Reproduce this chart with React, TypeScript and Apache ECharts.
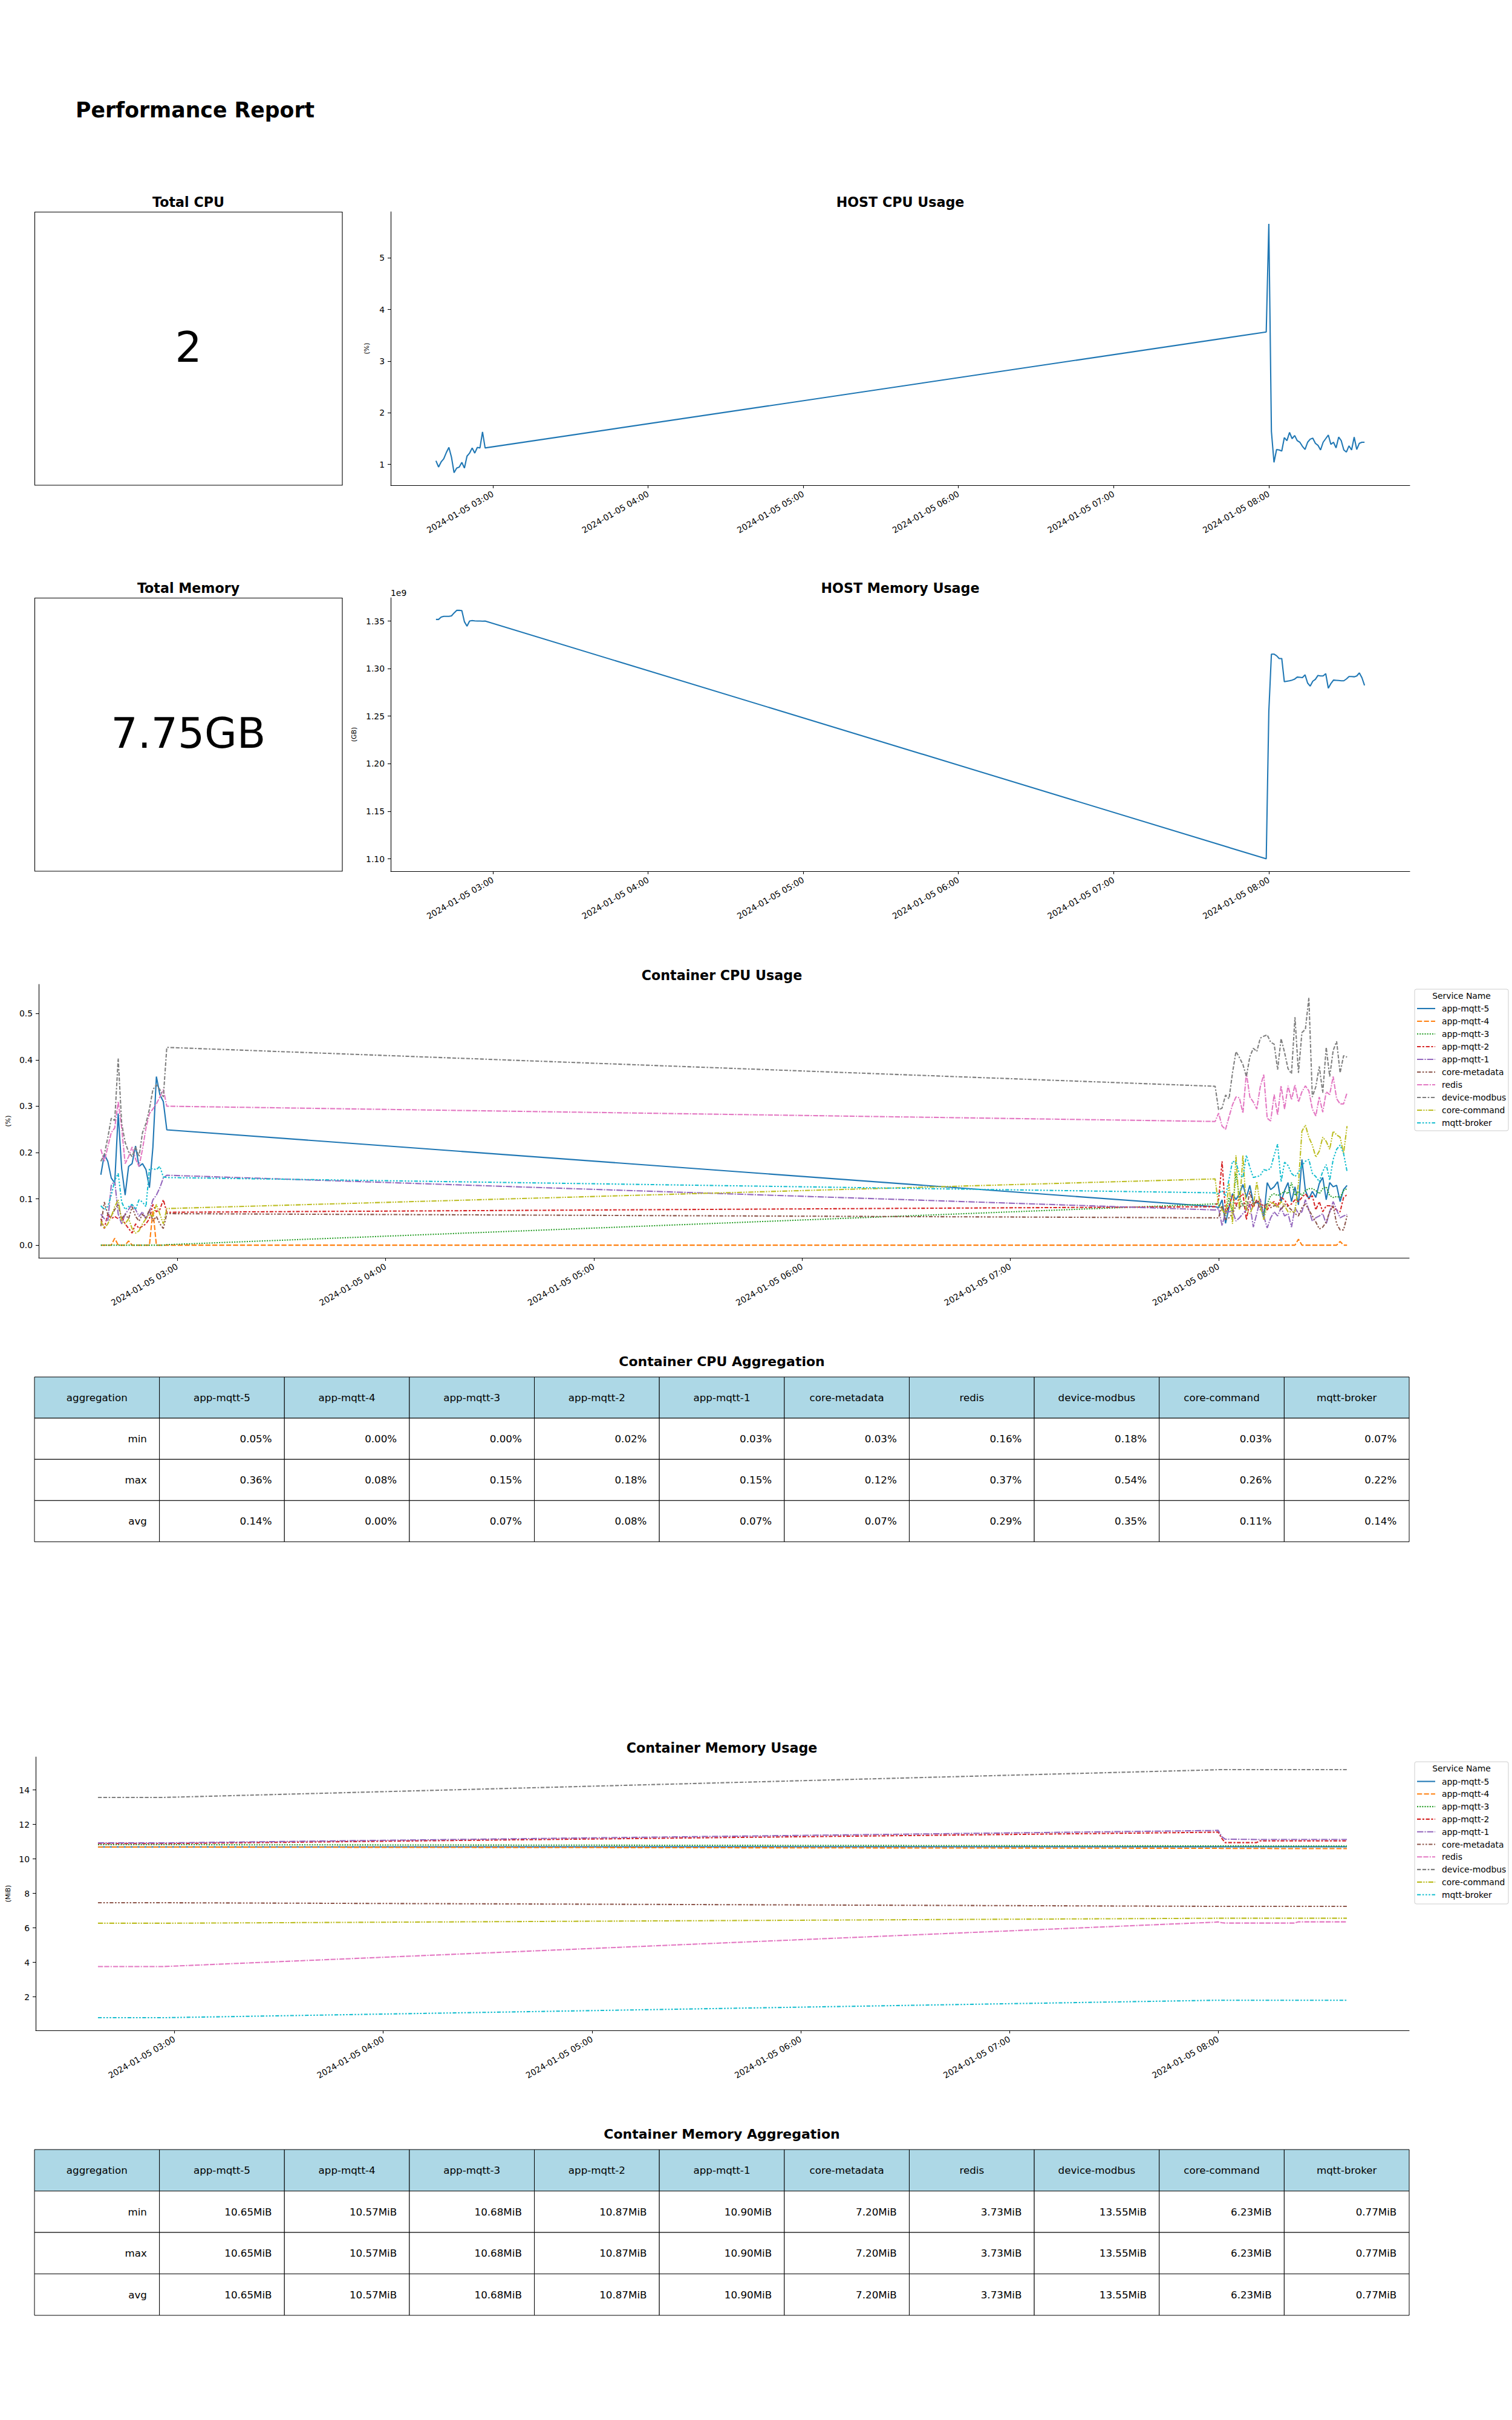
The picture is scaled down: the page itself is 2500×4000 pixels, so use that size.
import React, { useEffect, useRef } from "react";
import * as echarts from "echarts";

const FONT = "DejaVu Sans";

// ---------------- data ----------------
const services = ["app-mqtt-5", "app-mqtt-4", "app-mqtt-3", "app-mqtt-2", "app-mqtt-1", "core-metadata", "redis", "device-modbus", "core-command", "mqtt-broker"];

const totalCpuText = "2";
const totalMemoryText = "7.75GB";

const timesEarly = ["02:38", "02:39", "02:40", "02:41", "02:42", "02:43", "02:44", "02:45", "02:46", "02:47", "02:48", "02:49", "02:50", "02:51", "02:52", "02:53", "02:54", "02:55", "02:56", "02:57"];
const timesLate = ["07:59", "08:00", "08:01", "08:02", "08:03", "08:04", "08:05", "08:06", "08:07", "08:08", "08:09", "08:10", "08:11", "08:12", "08:13", "08:14", "08:15", "08:16", "08:17", "08:18", "08:19", "08:20", "08:21", "08:22", "08:23", "08:24", "08:25", "08:26", "08:27", "08:28", "08:29", "08:30", "08:31", "08:32", "08:33", "08:34", "08:35", "08:36", "08:37"];
const sampleTimes = [...timesEarly, ...timesLate];

const hourTicks = ["03:00", "04:00", "05:00", "06:00", "07:00", "08:00"];

// HOST CPU (%)
const hostCpuEarly = [1.07, 0.95, 1.05, 1.11, 1.23, 1.33, 1.14, 0.84, 0.93, 0.95, 1.04, 0.93, 1.16, 1.22, 1.32, 1.22, 1.33, 1.32, 1.63, 1.32];
const hostCpuLate = [3.565, 5.66, 1.64, 1.04, 1.29, 1.28, 1.26, 1.52, 1.46, 1.62, 1.50, 1.56, 1.46, 1.43, 1.35, 1.29, 1.43, 1.49, 1.51, 1.41, 1.37, 1.28, 1.43, 1.50, 1.57, 1.39, 1.43, 1.32, 1.53, 1.46, 1.28, 1.24, 1.36, 1.28, 1.53, 1.29, 1.41, 1.43, 1.43];
const hostCpuTicks = [1, 2, 3, 4, 5];

// HOST Memory (x 1e9)
const hostMemEarly = [1.3517, 1.3517, 1.3541, 1.3549, 1.3549, 1.3549, 1.3554, 1.3585, 1.3612, 1.3612, 1.3610, 1.3493, 1.3446, 1.3500, 1.3505, 1.3502, 1.3500, 1.3500, 1.3498, 1.3500];
const hostMemLate = [1.100, 1.255, 1.3152, 1.3152, 1.3135, 1.3106, 1.3106, 1.2862, 1.2867, 1.2872, 1.2879, 1.2890, 1.2911, 1.2909, 1.2905, 1.2935, 1.2848, 1.2816, 1.2867, 1.2887, 1.2928, 1.2923, 1.2923, 1.2947, 1.2794, 1.2843, 1.2879, 1.2877, 1.2875, 1.2872, 1.2872, 1.2891, 1.2916, 1.2916, 1.2914, 1.2923, 1.2955, 1.2904, 1.2823];
const hostMemTicks = [1.10, 1.15, 1.20, 1.25, 1.30, 1.35];
const hostMemOffsetText = "1e9";

// Container CPU (%) : 20 early + 39 late samples
const cpuAppMqtt5 = [0.152, 0.196, 0.181, 0.145, 0.134, 0.284, 0.165, 0.108, 0.170, 0.176, 0.214, 0.170, 0.176, 0.163, 0.124, 0.212, 0.364, 0.325, 0.310, 0.249,
  0.083, 0.081, 0.098, 0.047, 0.081, 0.111, 0.098, 0.111, 0.131, 0.103, 0.129, 0.092, 0.092, 0.089, 0.059, 0.135, 0.120, 0.126, 0.137, 0.094, 0.118, 0.135, 0.094, 0.126, 0.087, 0.185, 0.118, 0.100, 0.116, 0.103, 0.133, 0.146, 0.098, 0.135, 0.126, 0.129, 0.094, 0.120, 0.129];
const cpuAppMqtt4 = [0, 0, 0, 0, 0.015, 0, 0, 0, 0.009, 0, 0, 0, 0, 0, 0, 0.075, 0, 0, 0, 0,
  0, 0, 0, 0, 0, 0, 0, 0, 0, 0, 0, 0, 0, 0, 0, 0, 0, 0, 0, 0, 0, 0, 0, 0, 0.013, 0, 0, 0, 0, 0, 0, 0, 0, 0, 0, 0, 0.008, 0, 0];
const cpuAppMqtt3 = [0, 0, 0, 0, 0, 0, 0, 0, 0, 0, 0, 0, 0, 0, 0, 0, 0, 0, 0, 0.001,
  0.089, 0.089, 0.081, 0.063, 0.103, 0.072, 0.155, 0.103, 0.085, 0.094, 0.085, 0.089, 0.094, 0.094, 0.068, 0.089, 0.107, 0.111, 0.107, 0.111, 0.116, 0.111, 0.135, 0.107, 0.116, 0.107, 0.118, 0.122, 0.122, 0.118, 0.111, 0.122, 0.126, 0.107, 0.103, 0.105, 0.103, 0.118, 0.122];
const cpuAppMqtt2 = [0.057, 0.036, 0.067, 0.057, 0.062, 0.057, 0.062, 0.046, 0.036, 0.026, 0.046, 0.036, 0.041, 0.046, 0.057, 0.088, 0.072, 0.077, 0.098, 0.071,
  0.083, 0.098, 0.181, 0.068, 0.085, 0.107, 0.085, 0.103, 0.111, 0.055, 0.094, 0.081, 0.098, 0.089, 0.085, 0.076, 0.089, 0.094, 0.085, 0.103, 0.098, 0.085, 0.089, 0.098, 0.094, 0.103, 0.111, 0.100, 0.107, 0.076, 0.094, 0.072, 0.085, 0.085, 0.081, 0.076, 0.072, 0.103, 0.109];
const cpuAppMqtt1 = [0.067, 0.057, 0.052, 0.129, 0.139, 0.067, 0.046, 0.067, 0.077, 0.088, 0.077, 0.062, 0.072, 0.057, 0.072, 0.098, 0.108, 0.124, 0.145, 0.151,
  0.076, 0.079, 0.042, 0.072, 0.072, 0.074, 0.052, 0.059, 0.068, 0.076, 0.089, 0.039, 0.068, 0.100, 0.063, 0.037, 0.059, 0.072, 0.063, 0.081, 0.063, 0.068, 0.039, 0.081, 0.068, 0.072, 0.098, 0.076, 0.052, 0.059, 0.063, 0.068, 0.046, 0.072, 0.094, 0.076, 0.059, 0.063, 0.066];
const cpuCoreMetadata = [0.041, 0.093, 0.067, 0.062, 0.077, 0.088, 0.057, 0.067, 0.057, 0.083, 0.062, 0.052, 0.067, 0.057, 0.077, 0.052, 0.062, 0.046, 0.036, 0.068,
  0.059, 0.059, 0.085, 0.055, 0.059, 0.068, 0.085, 0.081, 0.089, 0.076, 0.116, 0.085, 0.098, 0.076, 0.085, 0.089, 0.081, 0.085, 0.085, 0.076, 0.089, 0.083, 0.076, 0.068, 0.063, 0.081, 0.089, 0.076, 0.063, 0.050, 0.035, 0.039, 0.050, 0.072, 0.085, 0.046, 0.033, 0.033, 0.063];
const cpuRedis = [0.207, 0.181, 0.212, 0.243, 0.253, 0.310, 0.253, 0.176, 0.191, 0.212, 0.186, 0.170, 0.207, 0.253, 0.284, 0.294, 0.305, 0.320, 0.336, 0.300,
  0.267, 0.285, 0.257, 0.250, 0.277, 0.303, 0.320, 0.318, 0.285, 0.372, 0.320, 0.309, 0.294, 0.342, 0.368, 0.274, 0.268, 0.325, 0.281, 0.344, 0.294, 0.344, 0.314, 0.346, 0.309, 0.331, 0.344, 0.333, 0.294, 0.279, 0.320, 0.287, 0.331, 0.325, 0.364, 0.316, 0.305, 0.305, 0.329];
const cpuDeviceModbus = [0.181, 0.196, 0.232, 0.274, 0.269, 0.403, 0.263, 0.222, 0.201, 0.191, 0.212, 0.191, 0.243, 0.263, 0.294, 0.336, 0.346, 0.336, 0.320, 0.427,
  0.343, 0.292, 0.296, 0.324, 0.316, 0.372, 0.418, 0.405, 0.390, 0.364, 0.407, 0.425, 0.418, 0.447, 0.451, 0.454, 0.438, 0.434, 0.379, 0.446, 0.416, 0.381, 0.370, 0.492, 0.372, 0.459, 0.466, 0.534, 0.320, 0.342, 0.386, 0.329, 0.427, 0.364, 0.420, 0.440, 0.372, 0.409, 0.406];
const cpuCoreCommand = [0.052, 0.036, 0.046, 0.062, 0.083, 0.098, 0.052, 0.046, 0.057, 0.036, 0.026, 0.031, 0.046, 0.057, 0.067, 0.062, 0.088, 0.067, 0.046, 0.079,
  0.143, 0.085, 0.076, 0.068, 0.133, 0.046, 0.194, 0.076, 0.194, 0.076, 0.068, 0.085, 0.137, 0.085, 0.055, 0.085, 0.094, 0.089, 0.081, 0.094, 0.085, 0.072, 0.072, 0.072, 0.133, 0.246, 0.259, 0.233, 0.216, 0.190, 0.203, 0.233, 0.224, 0.207, 0.246, 0.238, 0.233, 0.198, 0.257];
const cpuMqttBroker = [0.085, 0.077, 0.083, 0.108, 0.139, 0.155, 0.093, 0.077, 0.083, 0.088, 0.077, 0.098, 0.093, 0.083, 0.165, 0.165, 0.163, 0.170, 0.147, 0.146,
  0.113, 0.111, 0.118, 0.107, 0.142, 0.181, 0.179, 0.153, 0.146, 0.194, 0.168, 0.146, 0.148, 0.150, 0.163, 0.161, 0.166, 0.194, 0.218, 0.137, 0.179, 0.172, 0.155, 0.148, 0.157, 0.172, 0.181, 0.185, 0.155, 0.148, 0.137, 0.159, 0.174, 0.140, 0.185, 0.207, 0.216, 0.198, 0.159];
const containerCpuTicks = [0, 0.1, 0.2, 0.3, 0.4, 0.5];

// Container Memory (MiB)
const memTimes = ["02:38", "02:57", "07:59", "08:00", "08:01", "08:02", "08:11", "08:12", "08:22", "08:23", "08:37"];
const memAppMqtt5 = [10.70, 10.70, 10.71, 10.71, 10.71, 10.71, 10.71, 10.71, 10.71, 10.71, 10.71];
const memAppMqtt4 = [10.69, 10.69, 10.62, 10.62, 10.61, 10.61, 10.61, 10.61, 10.60, 10.60, 10.60];
const memAppMqtt3 = [10.83, 10.83, 10.76, 10.76, 10.76, 10.76, 10.76, 10.75, 10.75, 10.75, 10.75];
const memAppMqtt2 = [10.89, 10.89, 11.55, 11.56, 11.20, 10.95, 10.95, 11.05, 11.05, 11.05, 11.05];
const memAppMqtt1 = [10.93, 10.93, 11.65, 11.66, 11.30, 11.15, 11.13, 11.13, 11.13, 11.13, 11.13];
const memCoreMetadata = [7.46, 7.46, 7.25, 7.25, 7.25, 7.25, 7.25, 7.25, 7.25, 7.25, 7.25];
const memRedis = [3.76, 3.76, 6.33, 6.35, 6.30, 6.28, 6.28, 6.28, 6.28, 6.35, 6.35];
const memDeviceModbus = [13.57, 13.57, 15.17, 15.18, 15.18, 15.18, 15.18, 15.18, 15.18, 15.18, 15.18];
const memCoreCommand = [6.27, 6.27, 6.56, 6.56, 6.56, 6.56, 6.56, 6.56, 6.56, 6.56, 6.56];
const memMqttBroker = [0.79, 0.79, 1.80, 1.80, 1.80, 1.80, 1.80, 1.80, 1.80, 1.80, 1.80];
const containerMemTicks = [2, 4, 6, 8, 10, 12, 14];

// Aggregation tables
const aggRows = ["min", "max", "avg"];
const cpuAggMin = [0.05, 0.00, 0.00, 0.02, 0.03, 0.03, 0.16, 0.18, 0.03, 0.07];
const cpuAggMax = [0.36, 0.08, 0.15, 0.18, 0.15, 0.12, 0.37, 0.54, 0.26, 0.22];
const cpuAggAvg = [0.14, 0.00, 0.07, 0.08, 0.07, 0.07, 0.29, 0.35, 0.11, 0.14];
const memAggMin = [10.65, 10.57, 10.68, 10.87, 10.90, 7.20, 3.73, 13.55, 6.23, 0.77];
const memAggMax = [10.65, 10.57, 10.68, 10.87, 10.90, 7.20, 3.73, 13.55, 6.23, 0.77];
const memAggAvg = [10.65, 10.57, 10.68, 10.87, 10.90, 7.20, 3.73, 13.55, 6.23, 0.77];

// ---------------- styles ----------------
const palette = ["#1f77b4", "#ff7f0e", "#2ca02c", "#d62728", "#9467bd", "#8c564b", "#e377c2", "#7f7f7f", "#bcbd22", "#17becf"];
const LW = 2.08;
const dashUnits: (number[] | null)[] = [
  null,
  [4, 1.5],
  [1, 1],
  [3, 1.25, 1.5, 1.25],
  [5, 1, 1, 1],
  [3, 1.25, 1.25, 1.25, 1.25, 1.25],
  [4, 1, 4, 1, 1, 1],
  [3, 1.25, 3, 1.25, 1.25, 1.25],
  [4, 1, 1, 1, 1, 1],
  [3, 1.25, 1.25, 1.25, 1.25, 1.25, 1.25, 1.25],
];
const dashPx = dashUnits.map((d) => (d ? d.map((v) => v * LW) : null));

// ---------------- helpers ----------------
const toMin = (s: string) => {
  const [h, m] = s.split(":").map(Number);
  return h * 60 + m;
};
const pairs = (times: string[], vals: number[]) => times.map((t, i) => [toMin(t), vals[i]]);
const fmtTime = (v: number) => {
  const h = Math.floor(v / 60);
  const m = Math.round(v - h * 60);
  return `2024-01-05 ${String(h).padStart(2, "0")}:${String(m).padStart(2, "0")}`;
};

const txt = (text: string, x: number, y: number, size: number, weight: string, align: string, vAlign = "middle") => ({
  type: "text",
  x,
  y,
  silent: true,
  style: {
    text,
    fontSize: size,
    fontFamily: FONT,
    fontWeight: weight,
    fill: "#000",
    textAlign: align,
    align,
    textVerticalAlign: vAlign,
    verticalAlign: vAlign,
  },
});

const GRID_X_LEFT = 57;
const GRID_X_RIGHT = 2330;

function buildTable(top: number, rowH: number, title: string, rows: number[][], unit: string) {
  const els: any[] = [];
  const colW = (GRID_X_RIGHT - GRID_X_LEFT) / (services.length + 1);
  els.push(txt(title, (GRID_X_LEFT + GRID_X_RIGHT) / 2, top - 26, 22, "bold", "center"));
  const header = ["aggregation", ...services];
  header.forEach((h, c) => {
    const x = GRID_X_LEFT + c * colW;
    els.push({ type: "rect", silent: true, shape: { x, y: top, width: colW, height: rowH }, style: { fill: "#add8e6", stroke: "#000", lineWidth: 1 } });
    els.push(txt(h, x + colW / 2, top + rowH / 2, 16.7, "normal", "center"));
  });
  aggRows.forEach((label, r) => {
    const y = top + (r + 1) * rowH;
    const cells = [label, ...rows[r].map((v) => v.toFixed(2) + unit)];
    cells.forEach((cv, c) => {
      const x = GRID_X_LEFT + c * colW;
      els.push({ type: "rect", silent: true, shape: { x, y, width: colW, height: rowH }, style: { fill: "#fff", stroke: "#000", lineWidth: 1 } });
      els.push(txt(cv, x + colW - 20.7, y + rowH / 2, 16.7, "normal", "right"));
    });
  });
  return els;
}

function buildLegend(boxTop: number, boxH: number, titleY: number, firstRowY: number, step: number) {
  const els: any[] = [];
  els.push({
    type: "rect",
    silent: true,
    shape: { x: 2339, y: boxTop, width: 155, height: boxH, r: 3 },
    style: { fill: "rgba(255,255,255,0.8)", stroke: "#cccccc", lineWidth: 1 },
  });
  els.push(txt("Service Name", 2416.5, titleY, 13.9, "normal", "center"));
  services.forEach((name, i) => {
    const y = firstRowY + i * step;
    els.push({
      type: "line",
      silent: true,
      shape: { x1: 2343, y1: y, x2: 2373, y2: y },
      style: { stroke: palette[i], lineWidth: LW, lineDash: dashPx[i] || null },
    });
    els.push(txt(name, 2384, y, 13.9, "normal", "left"));
  });
  return els;
}

const axisLineStyle = { color: "#000", width: 1.1 };

function xAxis(gridIndex: number, min: number, max: number) {
  const ticks = hourTicks.map(toMin);
  return {
    type: "value",
    gridIndex,
    min,
    max,
    axisLine: { show: true, onZero: false, lineStyle: axisLineStyle },
    axisTick: { show: true, length: 5, lineStyle: axisLineStyle, customValues: ticks },
    axisLabel: {
      show: true,
      rotate: 30,
      margin: 13,
      fontSize: 13.9,
      fontFamily: FONT,
      color: "#000",
      customValues: ticks,
      formatter: (v: number) => fmtTime(v),
    },
    splitLine: { show: false },
  };
}

function yAxis(gridIndex: number, min: number, max: number, ticks: number[], fmt: (v: number) => string, name: string, nameGap: number) {
  return {
    type: "value",
    gridIndex,
    min,
    max,
    name,
    nameLocation: "middle",
    nameGap,
    nameRotate: 90,
    nameTextStyle: { fontSize: 11, fontFamily: FONT, color: "#000" },
    axisLine: { show: true, onZero: false, lineStyle: axisLineStyle },
    axisTick: { show: true, length: 5, lineStyle: axisLineStyle, customValues: ticks },
    axisLabel: { show: true, margin: 10, fontSize: 13.9, fontFamily: FONT, color: "#000", customValues: ticks, formatter: (v: number) => fmt(v) },
    splitLine: { show: false },
  };
}

export default function App() {
  const ref = useRef<HTMLDivElement>(null);

  useEffect(() => {
    if (!ref.current) return;
    const chart = echarts.init(ref.current, null, { renderer: "svg", width: 2500, height: 4000 });

    const cpuSeriesValues = [cpuAppMqtt5, cpuAppMqtt4, cpuAppMqtt3, cpuAppMqtt2, cpuAppMqtt1, cpuCoreMetadata, cpuRedis, cpuDeviceModbus, cpuCoreCommand, cpuMqttBroker];
    const memSeriesValues = [memAppMqtt5, memAppMqtt4, memAppMqtt3, memAppMqtt2, memAppMqtt1, memCoreMetadata, memRedis, memDeviceModbus, memCoreCommand, memMqttBroker];

    const lineSeries = (name: string, xi: number, data: number[][], i: number, width = LW) => ({
      type: "line",
      name,
      xAxisIndex: xi,
      yAxisIndex: xi,
      data,
      symbol: "none",
      showSymbol: false,
      silent: true,
      lineStyle: { color: palette[i], width, type: dashPx[i] || "solid" },
      z: 2 + i * 0.01,
    });

    const series: any[] = [
      lineSeries("HOST CPU", 0, pairs(sampleTimes, [...hostCpuEarly, ...hostCpuLate]), 0),
      lineSeries("HOST Memory", 1, pairs(sampleTimes, [...hostMemEarly, ...hostMemLate]), 0),
      ...services.map((s, i) => lineSeries(s, 2, pairs(sampleTimes, cpuSeriesValues[i]), i)),
      ...services.map((s, i) => lineSeries(s, 3, pairs(memTimes, memSeriesValues[i]), i)),
    ];

    const graphic: any[] = [
      txt("Performance Report", 125, 182, 34.7, "bold", "left"),
      // Total CPU panel
      txt("Total CPU", 311.5, 334, 22.2, "bold", "center"),
      { type: "rect", silent: true, shape: { x: 57.5, y: 350.5, width: 508.5, height: 451.5 }, style: { fill: "none", stroke: "#000", lineWidth: 1.1 } },
      txt(totalCpuText, 311.5, 574, 69.4, "normal", "center"),
      txt("HOST CPU Usage", 1488.5, 334, 22.2, "bold", "center"),
      // Total Memory panel
      txt("Total Memory", 311.5, 972, 22.2, "bold", "center"),
      { type: "rect", silent: true, shape: { x: 57.5, y: 988.5, width: 508.5, height: 451.5 }, style: { fill: "none", stroke: "#000", lineWidth: 1.1 } },
      txt(totalMemoryText, 311.5, 1212, 69.4, "normal", "center"),
      txt("HOST Memory Usage", 1488.5, 972, 22.2, "bold", "center"),
      txt(hostMemOffsetText, 646, 980, 13.9, "normal", "left"),
      // container charts
      txt("Container CPU Usage", 1193.5, 1612, 22.2, "bold", "center"),
      txt("Container Memory Usage", 1193.5, 2889, 22.2, "bold", "center"),
      ...buildLegend(1635, 234, 1646, 1667, 21),
      ...buildLegend(2912, 235, 2923, 2944.5, 20.8),
      ...buildTable(2276, 68.1, "Container CPU Aggregation", [cpuAggMin, cpuAggMax, cpuAggAvg], "%"),
      ...buildTable(3553, 68.5, "Container Memory Aggregation", [memAggMin, memAggMax, memAggAvg], "MiB"),
    ];

    const option: any = {
      animation: false,
      backgroundColor: "#ffffff",
      textStyle: { fontFamily: FONT },
      grid: [
        { left: 646, top: 350, width: 1685, height: 452 },
        { left: 646, top: 988, width: 1685, height: 452 },
        { left: 57, top: 1627, width: 2273, height: 452 },
        { left: 57, top: 2904, width: 2273, height: 452 },
      ],
      xAxis: [
        xAxis(0, 140.5, 534.5),
        xAxis(1, 140.5, 534.5),
        xAxis(2, 140.1, 534.9),
        xAxis(3, 140.1, 534.9),
      ],
      yAxis: [
        yAxis(0, 0.598, 5.894, hostCpuTicks, (v) => String(Math.round(v)), "(%)", 34),
        yAxis(1, 1.087, 1.3745, hostMemTicks, (v) => v.toFixed(2), "(GB)", 55),
        yAxis(2, -0.0273, 0.5631, containerCpuTicks, (v) => v.toFixed(1), "(%)", 45),
        yAxis(3, 0.054, 15.92, containerMemTicks, (v) => String(Math.round(v)), "(MiB)", 40),
      ],
      series,
      graphic: { elements: graphic },
    };

    chart.setOption(option);
    return () => {
      chart.dispose();
    };
  }, []);

  return <div ref={ref} style={{ position: "absolute", left: 0, top: 0, width: 2500, height: 4000, background: "#fff" }} />;
}
